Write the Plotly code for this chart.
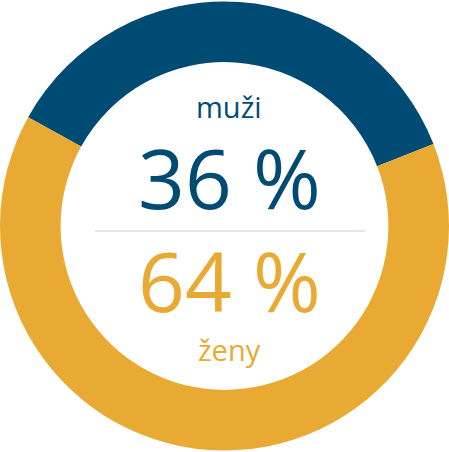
import plotly.graph_objects as go

# Données
labels = ["muži", "ženy"]
values = [36, 64]
colors = ["#004b73", "#e8aa33"]
W, H = 449, 452

fig = go.Figure(go.Pie(
    labels=labels,
    values=values,
    hole=0.73,
    sort=False,
    direction="clockwise",
    rotation=-61,
    marker=dict(colors=colors, line=dict(width=0)),
    textinfo="none",
    hoverinfo="label+percent",
    showlegend=False,
))

font = "Open Sans"
xc = 229 / W


def ypos(py):
    return 1 - py / H


annotations = [
    dict(text=labels[0], x=xc, y=ypos(107), font=dict(size=29, color=colors[0], family=font)),
    dict(text=f"{values[0]} %", x=xc, y=ypos(177), font=dict(size=82, color=colors[0], family=font)),
    dict(text=f"{values[1]} %", x=xc, y=ypos(280), font=dict(size=82, color=colors[1], family=font)),
    dict(text=labels[1], x=xc, y=ypos(349), font=dict(size=29, color=colors[1], family=font)),
]
for a in annotations:
    a.update(xref="paper", yref="paper", showarrow=False, xanchor="center", yanchor="middle")

fig.update_layout(
    width=W, height=H,
    margin=dict(l=0, r=0, t=0, b=0),
    paper_bgcolor="white",
    annotations=annotations,
    shapes=[dict(type="line", xref="paper", yref="paper",
                 x0=95 / W, x1=365 / W, y0=ypos(231), y1=ypos(231),
                 line=dict(color="#c8d2da", width=1))],
)

# pas de marge autour du graphique dans la page
fig.write_html("out.html", config={"displayModeBar": False},
               post_script="document.body.style.margin='0';")
